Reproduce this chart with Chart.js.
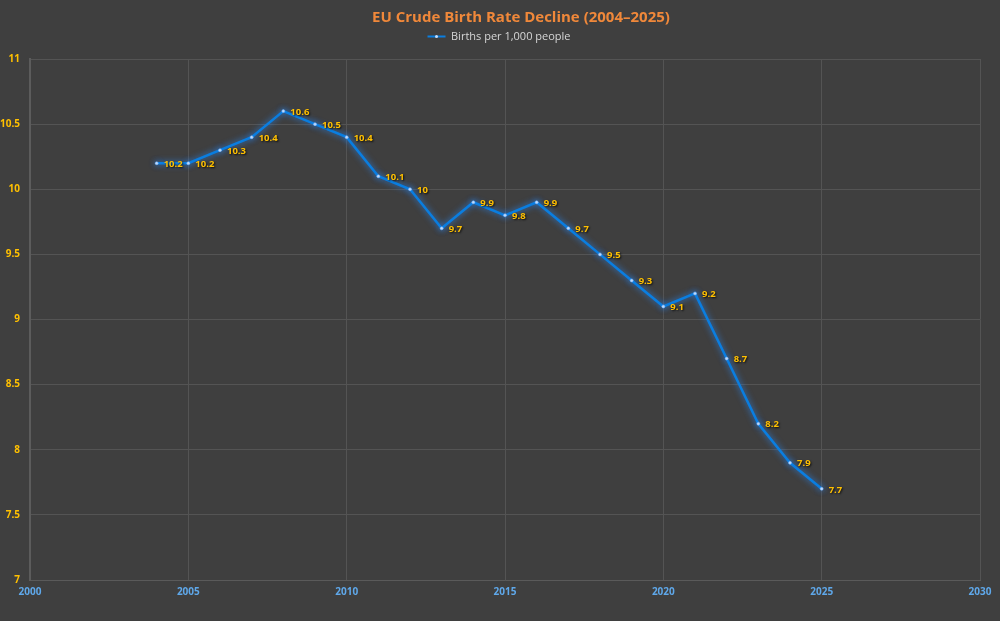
<!DOCTYPE html>
<html>
<head>
<meta charset="utf-8">
<script src="https://cdn.jsdelivr.net/npm/chart.js@4"></script>
<style>
  html, body { margin: 0; padding: 0; background: #3f3f3f; }
  #wrap { width: 1000px; height: 621px; }
</style>
</head>
<body>
<div id="wrap"><canvas id="chart"></canvas></div>
<script>
// Data
const years = [2004, 2005, 2006, 2007, 2008, 2009, 2010, 2011, 2012, 2013, 2014,
  2015, 2016, 2017, 2018, 2019, 2020, 2021, 2022, 2023, 2024, 2025];
const birthRate = [10.2, 10.2, 10.3, 10.4, 10.6, 10.5, 10.4, 10.1, 10, 9.7, 9.9,
  9.8, 9.9, 9.7, 9.5, 9.3, 9.1, 9.2, 8.7, 8.2, 7.9, 7.7];
const seriesLabel = 'Births per 1,000 people';
const chartTitle = 'EU Crude Birth Rate Decline (2004\u20132025)';

const FONT = '"Open Sans", "Noto Sans", sans-serif';

// glow under the line
const glowPlugin = {
  id: 'glow',
  beforeDatasetDraw(chart) {
    const ctx = chart.ctx;
    ctx.save();
    ctx.shadowColor = 'rgba(40,140,255,0.9)';
    ctx.shadowBlur = 6;
  },
  afterDatasetDraw(chart) {
    chart.ctx.restore();
  }
};

// value labels to the right of each point
const valueLabels = {
  id: 'valueLabels',
  afterDatasetsDraw(chart) {
    const ctx = chart.ctx;
    const meta = chart.getDatasetMeta(0);
    const data = chart.data.datasets[0].data;
    ctx.save();
    ctx.font = `bold 9.5px ${FONT}`;
    ctx.textAlign = 'left';
    ctx.textBaseline = 'middle';
    ctx.shadowColor = 'rgba(0,0,0,0.8)';
    ctx.shadowBlur = 2;
    ctx.shadowOffsetX = 1;
    ctx.shadowOffsetY = 1;
    ctx.fillStyle = '#ffc000';
    meta.data.forEach((pt, i) => {
      ctx.fillText(String(data[i].y), pt.x + 7, pt.y + 1);
    });
    ctx.restore();
  }
};

// shift a layout box sideways when it draws
function nudge(box, dx) {
  const draw = box.draw;
  box.draw = function (...args) {
    const ctx = this.ctx;
    ctx.save();
    ctx.translate(dx, 0);
    draw.apply(this, args);
    ctx.restore();
  };
}

const bgPlugin = {
  id: 'bg',
  beforeInit(chart) {
    const lg = chart.legend;
    if (lg) {
      // a bit more room under the legend
      const fit = lg.fit;
      lg.fit = function () { fit.call(this); this.height += 7; };
      nudge(lg, 9);
    }
    if (chart.titleBlock) nudge(chart.titleBlock, 31);
  },
  beforeDraw(chart) {
    const ctx = chart.ctx;
    ctx.save();
    ctx.fillStyle = '#3f3f3f';
    ctx.fillRect(0, 0, chart.width, chart.height);
    ctx.restore();
  },
  afterDraw(chart) {
    // point marker in the middle of the legend line
    const hb = chart.legend && chart.legend.legendHitBoxes[0];
    if (!hb) return;
    const ctx = chart.ctx;
    const box = chart.legend.options.labels.boxWidth;
    ctx.save();
    ctx.fillStyle = '#c8defa';
    ctx.beginPath();
    ctx.arc(hb.left + 9 + box / 2, hb.top + hb.height / 2, 1.5, 0, Math.PI * 2);
    ctx.fill();
    ctx.restore();
  }
};

new Chart(document.getElementById('chart'), {
  type: 'line',
  data: {
    datasets: [{
      label: seriesLabel,
      data: years.map((y, i) => ({ x: y, y: birthRate[i] })),
      borderColor: '#0a7ee0',
      backgroundColor: '#cfe4ff',
      borderWidth: 2.5,
      pointRadius: 1.5,
      pointBorderWidth: 0.5,
      pointBorderColor: '#6fb0ff',
      pointBackgroundColor: '#c8defa',
      tension: 0
    }]
  },
  options: {
    responsive: true,
    maintainAspectRatio: false,
    animation: false,
    layout: { padding: { left: 0, right: 20, top: 0, bottom: 17 } },
    plugins: {
      title: {
        display: true,
        text: chartTitle,
        color: '#f0883a',
        font: { family: FONT, size: 15, weight: 'bold' },
        padding: { top: 9, bottom: -2 }
      },
      legend: {
        display: true,
        labels: {
          color: '#d6d6d6',
          font: { family: FONT, size: 11 },
          boxWidth: 18,
          boxHeight: 2,
          padding: 6,
          generateLabels(chart) {
            const ds = chart.data.datasets[0];
            return [{
              text: ds.label,
              fillStyle: ds.borderColor,
              strokeStyle: ds.borderColor,
              lineWidth: 0,
              fontColor: '#d6d6d6',
              datasetIndex: 0
            }];
          }
        }
      },
      tooltip: { enabled: false }
    },
    scales: {
      x: {
        type: 'linear',
        min: 2000,
        max: 2030,
        ticks: {
          stepSize: 5,
          color: '#5fa8ea',
          font: { family: FONT, size: 10, weight: 'bold' },
          callback: v => String(v),
          padding: 6
        },
        grid: { color: '#545454', lineWidth: 1, drawTicks: false },
        border: { color: '#5a5a5a', width: 1 }
      },
      y: {
        min: 7,
        max: 11,
        afterFit(scale) { scale.width = 30; },
        ticks: {
          stepSize: 0.5,
          color: '#ffc000',
          font: { family: FONT, size: 10, weight: 'bold' },
          callback: v => String(v),
          padding: 10
        },
        grid: { color: '#545454', lineWidth: 1, drawTicks: false },
        border: { color: '#5c5c5c', width: 2 }
      }
    }
  },
  plugins: [bgPlugin, glowPlugin, valueLabels]
});
</script>
</body>
</html>
